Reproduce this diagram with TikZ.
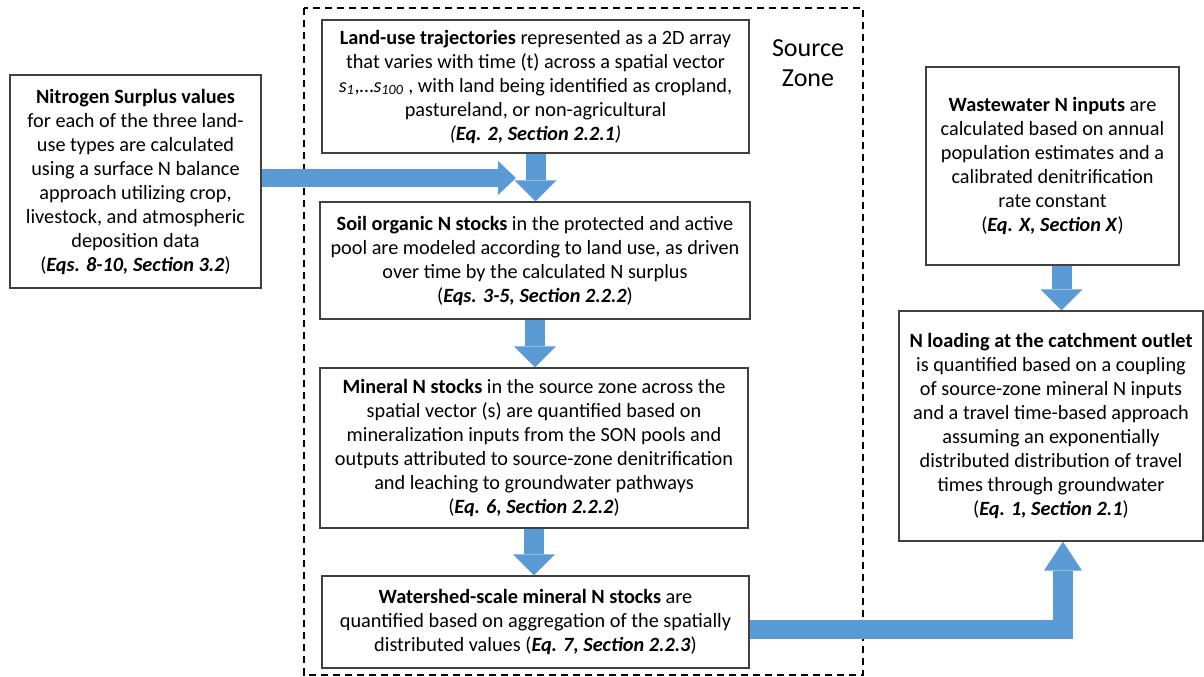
\documentclass[tikz,border=0pt]{standalone}
\usepackage{fontspec}
\setmainfont{Carlito}
\usetikzlibrary{arrows.meta}
\definecolor{flowblue}{HTML}{5B9BD5}
\definecolor{boxgray}{HTML}{404040}
\begin{document}
\begin{tikzpicture}[x=0.75pt,y=-0.75pt,
  box/.style={draw=boxgray, line width=0.9pt, align=center, inner sep=0pt, font=\fontsize{15.2}{18}\selectfont},
  flow/.style={draw=flowblue, line width=15pt, -{Triangle[width=31.5pt,length=15.75pt,line width=0pt]}}]
\useasboundingbox (0,0) rectangle (1204,676);
\draw[line width=1.1pt, dash pattern=on 5.5pt off 3.5pt] (304,8) rectangle (863,675);
\node[font=\fontsize{19.5}{22.5}\selectfont, align=center] (zone) at (808,63) {Source\\Zone};
\node[box, minimum width=188.25pt, minimum height=159.75pt] (nsur) at (135.5,181.5) {\textbf{Nitrogen Surplus values}\\for each of the three land-\\use types are calculated\\using a surface N balance\\approach utilizing crop,\\livestock, and atmospheric\\deposition data\\(\textbf{\textit{Eqs. 8-10, Section 3.2}})};
\node[box, minimum width=320.25pt, minimum height=99.75pt] (luse) at (535.5,86.5) {\textbf{Land-use trajectories} represented as a 2D array\\that varies with time (t) across a spatial vector\\\textit{s}\textsubscript{\textit{1}},…\textit{s}\textsubscript{\textit{100}} , with land being identified as cropland,\\pastureland, or non-agricultural\\\textit{(\textbf{Eq. 2, Section 2.2.1})}};
\node[box, minimum width=322.5pt, minimum height=87.75pt] (son) at (535,260.5) {\textbf{Soil organic N stocks} in the protected and active\\pool are modeled according to land use, as driven\\over time by the calculated N surplus\\(\textbf{\textit{Eqs. 3-5, Section 2.2.2}})};
\node[box, minimum width=321pt, minimum height=120pt] (mins) at (534,448) {\textbf{Mineral N stocks} in the source zone across the\\spatial vector (s) are quantified based on\\mineralization inputs from the SON pools and\\outputs attributed to source-zone denitrification\\and leaching to groundwater pathways\\(\textbf{\textit{Eq. 6, Section 2.2.2}})};
\node[box, minimum width=320.25pt, minimum height=69pt] (wsms) at (535.5,622) {\textbf{Watershed-scale mineral N stocks} are\\quantified based on aggregation of the spatially\\distributed values (\textbf{\textit{Eq. 7, Section 2.2.3}})};
\node[box, minimum width=189.75pt, minimum height=148.5pt] (wwat) at (1052.5,166) {\textbf{Wastewater N inputs} are\\calculated based on annual\\population estimates and a\\calibrated denitrification\\rate constant\\(\textbf{\textit{Eq. X, Section X}})};
\node[box, minimum width=228pt, minimum height=172.5pt] (nload) at (1051,426) {\textbf{N loading at the catchment outlet}\\is quantified based on a coupling\\of source-zone mineral N inputs\\and a travel time-based approach\\assuming an exponentially\\distributed distribution of travel\\times through groundwater\\(\textbf{\textit{Eq. 1, Section 2.1}})};
\coordinate (nsurtip) at (516,178);
\draw[flow, line width=13.5pt, -{Triangle[width=25.5pt,length=13.5pt,line width=0pt]}] (nsur.east |- nsurtip) -- (nsurtip);
\draw[flow] (luse.south) -- (luse.south |- son.north);
\draw[flow] (son.south) -- (son.south |- mins.north);
\draw[flow] (mins.south) -- (mins.south |- wsms.north);
\draw[flow] ([xshift=6.75pt]wwat.south) -- ([xshift=6.75pt]wwat.south |- nload.north);
\draw[flow, line width=14.5pt, -{Triangle[width=28.5pt,length=21.75pt,line width=0pt]}] ([yshift=-5.6pt]wsms.east) -| ([xshift=9pt]nload.south);
\end{tikzpicture}
\end{document}
